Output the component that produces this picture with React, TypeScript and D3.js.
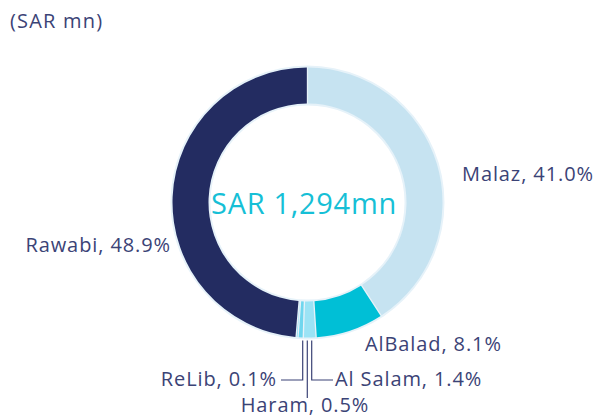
import React from "react";
import * as d3 from "d3";

const categories = ["Malaz", "AlBalad", "Al Salam", "Haram", "ReLib", "Rawabi"];
const shares = [41.0, 8.1, 1.4, 0.5, 0.1, 48.9];
const colors = ["#c6e3f1", "#00bfd6", "#9be3f5", "#6fd6ee", "#6fd6ee", "#232c61"];
const totalLabel = "SAR 1,294mn";
const unitLabel = "(SAR mn)";

const W = 598, H = 419;
const cx = 307.5, cy = 202.5;
const rOuter = 135, rInner = 99;
const navy = "#3b4376";
const font = "'Open Sans', 'Noto Sans', sans-serif";

export default function App() {
  const pie = d3.pie<number>().sort(null).startAngle(0).endAngle(2 * Math.PI).padAngle(0.008).value((d) => d);
  const arcs = pie(shares);
  const arc = d3.arc<d3.PieArcDatum<number>>().innerRadius(rInner).outerRadius(rOuter);
  const ring = d3.arc()({ innerRadius: rInner - 2, outerRadius: rOuter + 2, startAngle: 0, endAngle: 2 * Math.PI }) as string;
  const fmt = (i: number) => `${categories[i]}, ${d3.format(".1f")(shares[i])}%`;

  const yTop = cy + rOuter + 3;
  const lead = { relib: cx - 4.8, haram: cx - 0.2, salam: cx + 4.2 };
  const yMid = 380;

  return (
    <svg width={W} height={H} style={{ position: "absolute", left: 0, top: 0 }}>
      <rect width={W} height={H} fill="#ffffff" />
      <text x={10} y={28} fontFamily={font} fontSize={20} letterSpacing={1.2} fill={navy}>{unitLabel}</text>
      <g transform={`translate(${cx},${cy})`}>
        <path d={ring} fill="#e6f2f9" />
        {arcs.map((a, i) => (
          <path key={i} d={arc(a) as string} fill={colors[i]} />
        ))}
        <text x={-3.5} y={11} textAnchor="middle" fontFamily={font} fontSize={29} letterSpacing={0.7} fill="#16bfd6">{totalLabel}</text>
      </g>
      <g fontFamily={font} fontSize={20} letterSpacing={0.9} fill={navy}>
        <text x={462} y={181}>{fmt(0)}</text>
        <text x={171} y={252} textAnchor="end">{fmt(5)}</text>
        <text x={365} y={351}>{fmt(1)}</text>
        <text x={277} y={386} textAnchor="end">{fmt(4)}</text>
        <text x={335} y={386}>{fmt(2)}</text>
        <text x={305} y={412} textAnchor="middle">{fmt(3)}</text>
      </g>
      <g stroke={navy} strokeWidth={1.2} fill="none">
        <polyline points={`${lead.relib},${yTop} ${lead.relib},${yMid} ${281},${yMid}`} />
        <line x1={lead.haram} y1={yTop} x2={lead.haram} y2={398} />
        <polyline points={`${lead.salam},${yTop} ${lead.salam},${yMid} ${333},${yMid}`} />
      </g>
    </svg>
  );
}
